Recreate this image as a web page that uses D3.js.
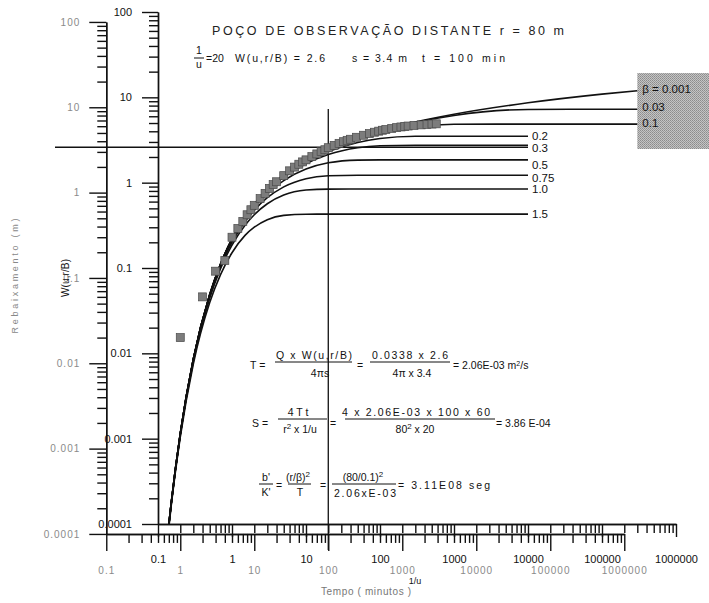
<!DOCTYPE html>
<html lang="pt">
<head>
<meta charset="UTF-8">
<title>Poço de observação distante</title>
<script src="https://cdn.jsdelivr.net/npm/d3@7"></script>
<style>
  html, body { margin: 0; padding: 0; background: #fff; }
  svg { display: block; font-family: "Liberation Sans", Arial, sans-serif; }
  .ax path, .ax line { stroke: #111; stroke-width: 1.4; }
  .ax text { font-size: 11px; fill: #111; }
  .ax.out text { font-size: 10px; fill: #8a8a8a; letter-spacing: 1px; }
  .curva { fill: none; stroke: #111; stroke-width: 1.6; }
  .f { font-size: 10.5px; fill: #111; }
</style>
</head>
<body>
<svg id="chart" width="709" height="603"></svg>
<script>
// curvas tipo W(u, r/B) -- 1/u comum a todas
var invU = [0.14, 0.15, 0.2, 0.3, 0.5, 0.7, 1, 1.5, 2, 3, 5, 10, 20, 50, 100, 300, 1000, 1e4, 1e5, 3e5]
var beta = ['0.001', '0.03', '0.1', '0.2', '0.3', '0.5', '0.75', '1.0', '1.5']
var w0001 = [9.85e-5, 1.684e-4, 1.148e-3, 8.57e-3, 0.0489, 0.1113, 0.2194, 0.3985, 0.5598, 0.829, 1.2227, 1.8229, 2.4679, 3.3547, 4.0379, 5.130, 6.3315, 8.630, 10.911, 11.96]
var w003 = [9.85e-5, 1.684e-4, 1.148e-3, 8.57e-3, 0.0489, 0.1113, 0.2194, 0.3985, 0.5598, 0.829, 1.2225, 1.8213, 2.464, 3.344, 4.017, 5.065, 6.120, 7.212, 7.247, 7.247]
var w01 = [9.85e-5, 1.684e-4, 1.148e-3, 8.57e-3, 0.0489, 0.1112, 0.2190, 0.3976, 0.5582, 0.8257, 1.2155, 1.805, 2.427, 3.244, 3.815, 4.514, 4.829, 4.854, 4.854, 4.854]
var w02 = [9.84e-5, 1.683e-4, 1.146e-3, 8.55e-3, 0.0487, 0.1107, 0.2179, 0.3948, 0.5533, 0.8158, 1.194, 1.7527, 2.311, 2.952, 3.288, 3.492, 3.505, 3.505]
var w03 = [9.82e-5, 1.68e-4, 1.143e-3, 8.52e-3, 0.0485, 0.1100, 0.2161, 0.3903, 0.5453, 0.800, 1.160, 1.670, 2.137, 2.569, 2.710, 2.745, 2.745, 2.745]
var w05 = [9.77e-5, 1.67e-4, 1.136e-3, 8.44e-3, 0.0477, 0.1078, 0.2103, 0.3761, 0.5207, 0.751, 1.059, 1.442, 1.708, 1.838, 1.848, 1.849, 1.849, 1.849]
var w075 = [9.66e-5, 1.65e-4, 1.12e-3, 8.27e-3, 0.0464, 0.1036, 0.1996, 0.350, 0.4761, 0.666, 0.893, 1.114, 1.205, 1.221, 1.221, 1.221, 1.221, 1.221]
var w1 = [9.51e-5, 1.63e-4, 1.10e-3, 8.0e-3, 0.0444, 0.0980, 0.1855, 0.317, 0.421, 0.566, 0.715, 0.819, 0.841, 0.842, 0.842, 0.842, 0.842, 0.842]
var w15 = [9.08e-5, 1.56e-4, 1.04e-3, 7.5e-3, 0.0394, 0.0837, 0.151, 0.241, 0.3004, 0.368, 0.4135, 0.427, 0.4276, 0.4276, 0.4276, 0.4276, 0.4276, 0.4276]

// rebaixamento observado (min, m)
var tempo = [1, 2, 3, 4, 5, 6, 7, 8, 9, 10, 12, 14, 16, 18, 20, 25, 30, 35, 40, 45, 50, 60, 70, 80, 90,
  100, 120, 140, 160, 180, 200, 240, 300, 360, 420, 480, 540, 600, 720, 840, 960, 1080, 1200, 1440, 1800, 2160, 2520, 2880]
var rebaix = [0.020, 0.060, 0.12, 0.16, 0.30, 0.38, 0.46, 0.55, 0.63, 0.71, 0.85, 0.98, 1.12, 1.24, 1.34, 1.58, 1.80, 1.99, 2.15, 2.29, 2.42, 2.64, 2.84, 3.02, 3.18,
  3.36, 3.58, 3.78, 3.95, 4.10, 4.22, 4.45, 4.70, 4.92, 5.10, 5.25, 5.38, 5.48, 5.65, 5.78, 5.88, 5.96, 6.03, 6.12, 6.22, 6.30, 6.36, 6.40]

// ponto de ajuste
var matchInvU = 20, matchW = 2.6, matchS = 3.4, matchT = 100

var yDecadas = [1e-4, 1e-3, 0.01, 0.1, 1, 10, 100]
var yLabels = ['0.0001', '0.001', '0.01', '0.1', '1', '10', '100']
var xDecadas = [0.1, 1, 10, 100, 1000, 1e4, 1e5, 1e6]
var xLabels = ['0.1', '1', '10', '100', '1000', '10000', '100000', '1000000']

var svg = d3.select('#chart')

// escalas: curva tipo (dentro) e dados (fora), deslocadas pelo ponto de ajuste
var xIn = d3.scaleLog().domain([0.1, 1e6]).range([158, 676])
var yIn = d3.scaleLog().domain([1e-4, 100]).range([524, 12])
var kx = matchInvU / matchT, ky = matchW / matchS
var xOut = d3.scaleLog().domain([0.1, 1e6]).range([xIn(0.1 * kx), xIn(1e6 * kx)])
var yOut = d3.scaleLog().domain([1e-4, 100]).range([yIn(1e-4 * ky), yIn(100 * ky)])

function minors (dec) {
  var r = []
  dec.slice(0, -1).forEach(function (d) {
    for (var k = 2; k < 10; k++) r.push(d * k)
  })
  return r
}

// pattern do quadro cinza
var defs = svg.append('defs')
var pat = defs.append('pattern').attr('id', 'reticula').attr('width', 2).attr('height', 2)
  .attr('patternUnits', 'userSpaceOnUse')
pat.append('rect').attr('width', 2).attr('height', 2).attr('fill', '#c4c4c4')
pat.append('rect').attr('width', 1).attr('height', 1).attr('fill', '#8c8c8c')
pat.append('rect').attr('x', 1).attr('y', 1).attr('width', 1).attr('height', 1).attr('fill', '#9a9a9a')
defs.append('clipPath').attr('id', 'area').append('rect')
  .attr('x', xIn(0.1)).attr('y', 0).attr('width', 560).attr('height', yIn(1e-4))

// eixos externos (dados)
svg.append('g').attr('class', 'ax out').attr('transform', 'translate(' + xOut(0.1) + ',0)')
  .call(d3.axisLeft(yOut).tickValues(minors(yDecadas)).tickSize(9).tickFormat('').tickSizeOuter(0))
svg.append('g').attr('class', 'ax out').attr('transform', 'translate(' + xOut(0.1) + ',0)')
  .call(d3.axisLeft(yOut).tickValues(yDecadas).tickSize(17).tickPadding(9)
    .tickFormat(function (d, i) { return yLabels[i] }).tickSizeOuter(0))
svg.append('g').attr('class', 'ax out').attr('transform', 'translate(0,' + yOut(1e-4) + ')')
  .call(d3.axisBottom(xOut).tickValues(minors(xDecadas)).tickSize(9).tickFormat('').tickSizeOuter(0))
svg.append('g').attr('class', 'ax out').attr('transform', 'translate(0,' + yOut(1e-4) + ')')
  .call(d3.axisBottom(xOut).tickValues(xDecadas).tickSize(17).tickPadding(16)
    .tickFormat(function (d, i) { return xLabels[i] }).tickSizeOuter(0))

// eixos internos (curva tipo)
svg.append('g').attr('class', 'ax').attr('transform', 'translate(' + xIn(0.1) + ',0)')
  .call(d3.axisLeft(yIn).tickValues(minors(yDecadas)).tickSize(9).tickFormat('').tickSizeOuter(0))
svg.append('g').attr('class', 'ax').attr('transform', 'translate(' + xIn(0.1) + ',0)')
  .call(d3.axisLeft(yIn).tickValues(yDecadas).tickSize(16).tickPadding(10)
    .tickFormat(function (d, i) { return yLabels[i] }).tickSizeOuter(0))
svg.append('g').attr('class', 'ax').attr('transform', 'translate(0,' + yIn(1e-4) + ')')
  .call(d3.axisBottom(xIn).tickValues(minors(xDecadas)).tickSize(9).tickFormat('').tickSizeOuter(0))
svg.append('g').attr('class', 'ax').attr('transform', 'translate(0,' + yIn(1e-4) + ')')
  .call(d3.axisBottom(xIn).tickValues(xDecadas).tickSize(13).tickPadding(18)
    .tickFormat(function (d, i) { return xLabels[i] }).tickSizeOuter(0))

// linhas do ponto de ajuste
svg.append('line').attr('x1', 55).attr('x2', xIn(1e4)).attr('y1', yIn(matchW)).attr('y2', yIn(matchW))
  .attr('stroke', '#111').attr('stroke-width', 1.3)
svg.append('line').attr('x1', xIn(matchInvU)).attr('x2', xIn(matchInvU)).attr('y1', 109).attr('y2', 550)
  .attr('stroke', '#111').attr('stroke-width', 1.3)

// quadro cinza
svg.append('rect').attr('x', xIn(3e5)).attr('y', 73).attr('width', 709 - xIn(3e5)).attr('height', 76)
  .attr('fill', 'url(#reticula)')

// curvas
var series = [w0001, w003, w01, w02, w03, w05, w075, w1, w15]
var line = d3.line().x(function (d) { return xIn(d[0]) }).y(function (d) { return yIn(d[1]) })
  .curve(d3.curveMonotoneX)
var gc = svg.append('g').attr('clip-path', 'url(#area)')
series.forEach(function (w) {
  var pts = w.map(function (v, i) { return [invU[i], v] })
  gc.append('path').attr('class', 'curva').attr('d', line(pts))
})

// rótulos das curvas
var dyLab = [-2, -2, -1, 0, 2.5, 5, 3, 0, 0]
series.forEach(function (w, i) {
  var last = w[w.length - 1]
  svg.append('text').attr('x', xIn(invU[w.length - 1]) + (i < 3 ? 5 : 4))
    .attr('y', yIn(last) + dyLab[i]).attr('dy', '0.35em')
    .attr('font-size', 11.5).attr('fill', '#111')
    .text(i === 0 ? 'β = ' + beta[i] : beta[i])
})

// pontos observados
svg.append('g').selectAll('rect').data(tempo).join('rect')
  .attr('x', function (d) { return xOut(d) - 4 })
  .attr('y', function (d, i) { return yOut(rebaix[i]) - 4 })
  .attr('width', 8).attr('height', 8)
  .attr('fill', '#7c7c7c').attr('stroke', '#4a4a4a').attr('stroke-width', 0.7)

// títulos dos eixos
svg.append('text').attr('transform', 'translate(18,276) rotate(-90)').attr('text-anchor', 'middle')
  .attr('font-size', 9).attr('fill', '#888').attr('textLength', 115).text('Rebaixamento (m)')
svg.append('text').attr('transform', 'translate(69,278) rotate(-90)').attr('text-anchor', 'middle')
  .attr('font-size', 10).attr('fill', '#111').attr('textLength', 38).text('W(u,r/B)')
svg.append('text').attr('x', 366).attr('y', 595).attr('text-anchor', 'middle')
  .attr('font-size', 10).attr('fill', '#777').attr('textLength', 90).text('Tempo ( minutos )')
svg.append('text').attr('x', 415).attr('y', 584).attr('text-anchor', 'middle')
  .attr('font-size', 9).attr('fill', '#111').text('1/u')

// cabeçalho
svg.append('text').attr('x', 212).attr('y', 35).attr('font-size', 12.5).attr('fill', '#222')
  .attr('textLength', 352).text('POÇO DE OBSERVAÇÃO DISTANTE  r = 80 m')

function txt (x, y, s, anchor, len) {
  var t = svg.append('text').attr('class', 'f').attr('x', x).attr('y', y)
    .attr('text-anchor', anchor || 'start')
  if (len) t.attr('textLength', len)
  t.html(s)
  return t
}
function barra (x1, x2, y) {
  svg.append('line').attr('x1', x1).attr('x2', x2).attr('y1', y).attr('y2', y)
    .attr('stroke', '#111').attr('stroke-width', 1)
}

txt(199, 54, '1', 'middle'); barra(194, 204, 58); txt(199, 68, 'u', 'middle')
txt(206, 62, '=20')
txt(235, 62, 'W(u,r/B) = 2.6', 'start', 90)
txt(352, 62, 's = 3.4 m', 'start', 55)
txt(422, 62, 't = 100 min', 'start', 83)

// T
txt(250, 369, 'T =')
txt(314, 359, 'Q x W(u,r/B)', 'middle', 76); barra(275, 352, 362); txt(320, 377, '4πs', 'middle')
txt(357, 369, '=')
txt(410, 359, '0.0338 x 2.6', 'middle', 76); barra(370, 450, 362); txt(412, 377, '4π x 3.4', 'middle')
txt(453, 369, '= 2.06E-03 m<tspan dy="-3" font-size="7">2</tspan><tspan dy="3">/s</tspan>')

// S
txt(252, 427, 'S =')
txt(298, 416, '4 T t', 'middle'); barra(278, 327, 419)
txt(300, 433, 'r<tspan dy="-4" font-size="8">2</tspan><tspan dy="4"> x 1/u</tspan>', 'middle')
txt(330, 427, '=')
txt(416, 416, '4 x 2.06E-03 x 100 x 60', 'middle', 148); barra(345, 495, 419)
txt(415, 433, '80<tspan dy="-4" font-size="8">2</tspan><tspan dy="4"> x 20</tspan>', 'middle')
txt(496, 427, '= 3.86 E-04')

// b'/K'
txt(266, 481, "b'", 'middle'); barra(259, 273, 484); txt(266, 496, "K'", 'middle')
txt(276, 489, '=')
txt(298, 481, '(r/β)<tspan dy="-4" font-size="8">2</tspan>', 'middle'); barra(288, 311, 484); txt(300, 496, 'T', 'middle')
txt(320, 489, '=')
txt(363, 481, '(80/0.1)<tspan dy="-4" font-size="8">2</tspan>', 'middle'); barra(332, 396, 484)
txt(365, 497, '2.06xE-03', 'middle', 62)
txt(398, 489, '= 3.11E08 seg', 'start', 92)
</script>
</body>
</html>
